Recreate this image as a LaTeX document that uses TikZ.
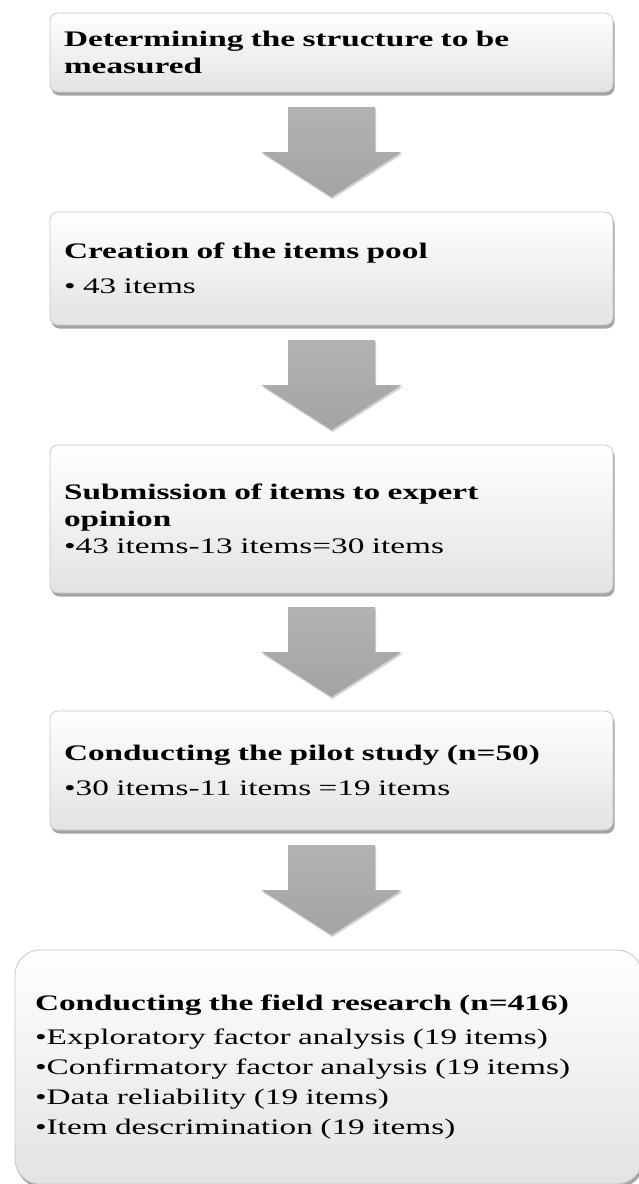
\documentclass[tikz,border=0pt]{standalone}
\usepackage{fontspec}
\setmainfont{Liberation Serif}[FakeStretch=1.5]
\usetikzlibrary{shadows,calc}
\begin{document}
\begin{tikzpicture}[x=1pt,y=-1pt,
stage/.style={draw=black!22,line width=0.8pt,rounded corners=8pt,top color=white,bottom color=black!11,anchor=north west,outer sep=0pt,align=left,inner xsep=14pt,text width=535pt,font=\fontsize{22.2}{27}\selectfont,drop shadow={shadow xshift=1.5pt,shadow yshift=-3.5pt,opacity=0.55,fill=black!65}},
down/.style={top color=black!30,bottom color=black!36,draw=none,drop shadow={shadow xshift=1pt,shadow yshift=-2pt,opacity=0.3,fill=black!60}}]
\useasboundingbox(0,0)rectangle(638,1184);
\node[stage,minimum height=79pt](s1)at(50,13){\textbf{Determining the structure to be}\\\textbf{measured}};
\node[stage,minimum height=113pt](s2)at(50,212){\textbf{Creation of the items pool}\\[8pt]• 43 items};
\node[stage,minimum height=148pt](s3)at(50,445){\textbf{Submission of items to expert}\\\textbf{opinion}\\•43 items-13 items=30 items};
\node[stage,minimum height=119pt](s4)at(50,711){\textbf{Conducting the pilot study (n=50)}\\[8pt]•30 items-11 items =19 items};
\node[stage,rounded corners=25pt,inner xsep=20pt,text width=587pt,minimum height=234pt,font=\fontsize{22.2}{30}\selectfont](s5)at(15,950){\textbf{Conducting the field research (n=416)}\\[4pt]•Exploratory factor analysis (19 items)\\•Confirmatory factor analysis (19 items)\\•Data reliability (19 items)\\•Item descrimination (19 items)};
\foreach \a/\b [count=\i] in {s1/s2,s2/s3,s3/s4,s4/s5}{
  \coordinate(a\i)at($(\a.south)!0.5!(\a.south|-\b.north)$);
  \path[down](a\i)+(-43.5,-45)--+(43.5,-45)--+(43.5,0)--+(70,0)--+(0,45)--+(-70,0)--+(-43.5,0)--cycle;}
\end{tikzpicture}
\end{document}
